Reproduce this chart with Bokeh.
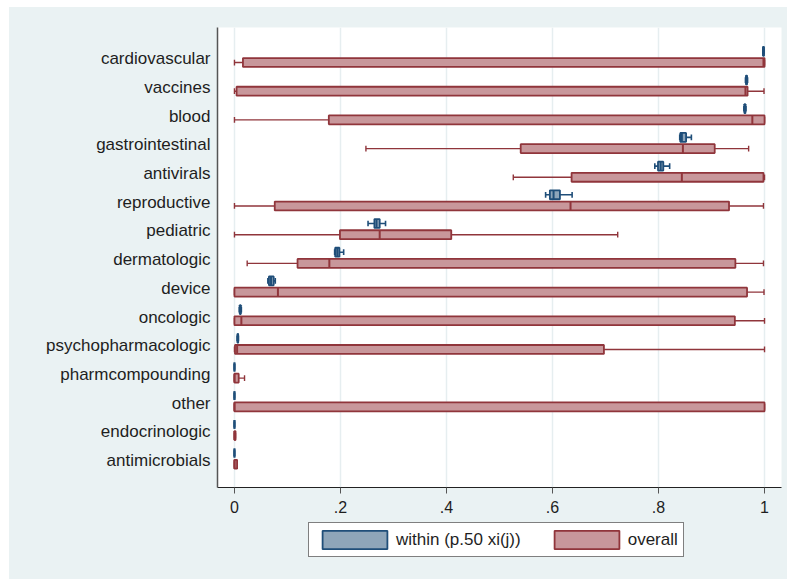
from bokeh.plotting import figure
from bokeh.models import (Range1d, FixedTicker, CustomJSTickFormatter, Legend, LegendItem,
                          ColumnDataSource, Spacer)
from bokeh.layouts import column, row
from bokeh.embed import file_html
from bokeh.resources import INLINE

categories = ["cardiovascular", "vaccines", "blood", "gastrointestinal", "antivirals",
              "reproductive", "pediatric", "dermatologic", "device", "oncologic",
              "psychopharmacologic", "pharmcompounding", "other", "endocrinologic",
              "antimicrobials"]

# overall distribution: lower adjacent, p25, p50, p75, upper adjacent
overall_lo  = [0.000, 0.000, 0.000, 0.248, 0.526, 0.000, 0.000, 0.024, 0.000, 0.000, 0.000, 0.000, 0.000, 0.000, 0.000]
overall_q1  = [0.016, 0.004, 0.178, 0.540, 0.636, 0.076, 0.199, 0.119, 0.000, 0.000, 0.001, 0.000, 0.000, 0.000, 0.000]
overall_med = [0.998, 0.964, 0.977, 0.846, 0.844, 0.634, 0.274, 0.179, 0.082, 0.013, 0.005, 0.000, 0.000, 0.000, 0.000]
overall_q3  = [1.000, 0.968, 1.000, 0.906, 0.998, 0.933, 0.409, 0.945, 0.967, 0.944, 0.697, 0.008, 1.000, 0.002, 0.005]
overall_hi  = [1.000, 0.999, 1.000, 0.970, 1.000, 0.998, 0.723, 0.998, 0.999, 1.000, 1.000, 0.019, 1.000, 0.002, 0.005]

# within (p.50 xi(j)) distribution
within_lo  = [0.997, 0.964, 0.961, 0.840, 0.793, 0.587, 0.252, 0.189, 0.063, 0.009, 0.005, 0.0, 0.0, 0.0, 0.0]
within_q1  = [0.997, 0.965, 0.962, 0.841, 0.799, 0.595, 0.264, 0.190, 0.065, 0.010, 0.006, 0.0, 0.0, 0.0, 0.0]
within_med = [0.998, 0.966, 0.963, 0.844, 0.804, 0.602, 0.268, 0.194, 0.069, 0.011, 0.006, 0.0, 0.0, 0.0, 0.0]
within_q3  = [0.999, 0.967, 0.964, 0.852, 0.809, 0.614, 0.274, 0.198, 0.074, 0.012, 0.007, 0.0, 0.0, 0.0, 0.0]
within_hi  = [0.999, 0.968, 0.965, 0.862, 0.821, 0.637, 0.285, 0.206, 0.077, 0.013, 0.0075, 0.0, 0.0, 0.0, 0.0]

x_ticks = [0, 0.2, 0.4, 0.6, 0.8, 1.0]
legend_labels = ["within (p.50 xi(j))", "overall"]

FONT = "Liberation Sans"
BG = "#eaf2f3"
NAVY_LINE = "#1f4e79"
NAVY_FILL = "#8ea5b9"
MAROON_LINE = "#90353b"
MAROON_FILL = "#c8979b"

n = len(categories)
p = figure(width=778, height=512, output_backend="svg", toolbar_location=None,
           x_range=Range1d(-0.032, 1.032), y_range=Range1d(14.94, -1.09),
           min_border_left=208, min_border_right=6, min_border_top=20, min_border_bottom=32)
p.background_fill_color = "white"
p.border_fill_color = BG
p.outline_line_color = None

BOX_H = 0.31
CAP_H = 0.2


def draw(lo, q1, med, q3, hi, offset, line, fill, lw):
    ys = [i + offset for i in range(n)]
    src = ColumnDataSource(dict(y=ys, lo=lo, q1=q1, med=med, q3=q3, hi=hi,
                                yt=[y - BOX_H / 2 for y in ys], yb=[y + BOX_H / 2 for y in ys],
                                ct=[y - CAP_H / 2 for y in ys], cb=[y + CAP_H / 2 for y in ys]))
    p.segment(x0="lo", x1="q1", y0="y", y1="y", source=src, line_color=line, line_width=lw)
    p.segment(x0="q3", x1="hi", y0="y", y1="y", source=src, line_color=line, line_width=lw)
    p.segment(x0="lo", x1="lo", y0="ct", y1="cb", source=src, line_color=line, line_width=lw)
    p.segment(x0="hi", x1="hi", y0="ct", y1="cb", source=src, line_color=line, line_width=lw)
    r = p.hbar(y="y", left="q1", right="q3", height=BOX_H, source=src,
               fill_color=fill, line_color=line, line_width=1.8)
    p.segment(x0="med", x1="med", y0="yt", y1="yb", source=src, line_color=line, line_width=2)
    return r


draw(within_lo, within_q1, within_med, within_q3, within_hi, -0.26,
     NAVY_LINE, NAVY_FILL, 1.6)
draw(overall_lo, overall_q1, overall_med, overall_q3, overall_hi, 0.13,
     MAROON_LINE, MAROON_FILL, 1.4)

# axes
p.xaxis.ticker = FixedTicker(ticks=x_ticks)
p.xaxis.formatter = CustomJSTickFormatter(code="""
const s = (Math.round(tick*10)/10).toString();
return s.startsWith("0.") ? s.slice(1) : s;
""")
p.xaxis.minor_tick_line_color = None
p.xaxis.major_tick_out = 6
p.xaxis.major_tick_in = 0
p.xaxis.major_tick_line_color = "#555555"
p.xaxis.axis_line_color = "#222222"
p.xaxis.axis_line_width = 1.2
p.xaxis.major_label_text_font = FONT
p.xaxis.major_label_text_font_size = "16px"
p.xaxis.major_label_text_color = "#1e1e1e"
p.xaxis.major_label_standoff = 7

p.yaxis.ticker = FixedTicker(ticks=list(range(n)))
p.yaxis.major_label_overrides = {i: c for i, c in enumerate(categories)}
p.yaxis.minor_tick_line_color = None
p.yaxis.major_tick_line_color = None
p.yaxis.major_tick_out = 0
p.yaxis.major_tick_in = 0
p.yaxis.axis_line_color = "#555555"
p.yaxis.axis_line_width = 1.5
p.yaxis.major_label_text_font = FONT
p.yaxis.major_label_text_font_size = "17px"
p.yaxis.major_label_text_color = "#1e1e1e"
p.yaxis.major_label_standoff = 7

p.xgrid.grid_line_color = "#e6eef0"
p.xgrid.grid_line_width = 1.5
p.ygrid.grid_line_color = None

# legend panel (separate figure below the plot; its frame is aligned with p's frame)
pl = figure(width=778, height=60, output_backend="svg", toolbar_location=None,
            x_axis_type=None, y_axis_type=None,
            x_range=Range1d(0, 1), y_range=Range1d(0, 1),
            min_border_left=0, min_border_right=0, min_border_top=0, min_border_bottom=0)
pl.background_fill_color = BG
pl.border_fill_color = BG
pl.outline_line_color = None
pl.grid.grid_line_color = None
hidden = ColumnDataSource(dict(y=[float("nan")], l=[float("nan")], r=[float("nan")]))
lw_ = pl.hbar(y="y", left="l", right="r", height=0.1, source=hidden,
              fill_color=NAVY_FILL, line_color=NAVY_LINE, line_width=1.8)
lo_ = pl.hbar(y="y", left="l", right="r", height=0.1, source=hidden,
              fill_color=MAROON_FILL, line_color=MAROON_LINE, line_width=1.8)

legend = Legend(items=[LegendItem(label=legend_labels[0], renderers=[lw_]),
                       LegendItem(label=legend_labels[1], renderers=[lo_])],
                orientation="horizontal", location=(91, 22),
                glyph_width=81, glyph_height=23, label_standoff=1, spacing=25,
                padding=5, margin=0,
                label_text_font=FONT, label_text_font_size="17px",
                label_text_color="#1e1e1e",
                border_line_color="black", border_line_width=1,
                background_fill_color="white", background_fill_alpha=1.0)
pl.add_layout(legend, "center")

inner = column(p, pl, spacing=0, styles={"background-color": BG})
layout = column(Spacer(height=7), row(Spacer(width=9), inner), spacing=0)
open("out.html", "w").write(file_html(layout, INLINE))
